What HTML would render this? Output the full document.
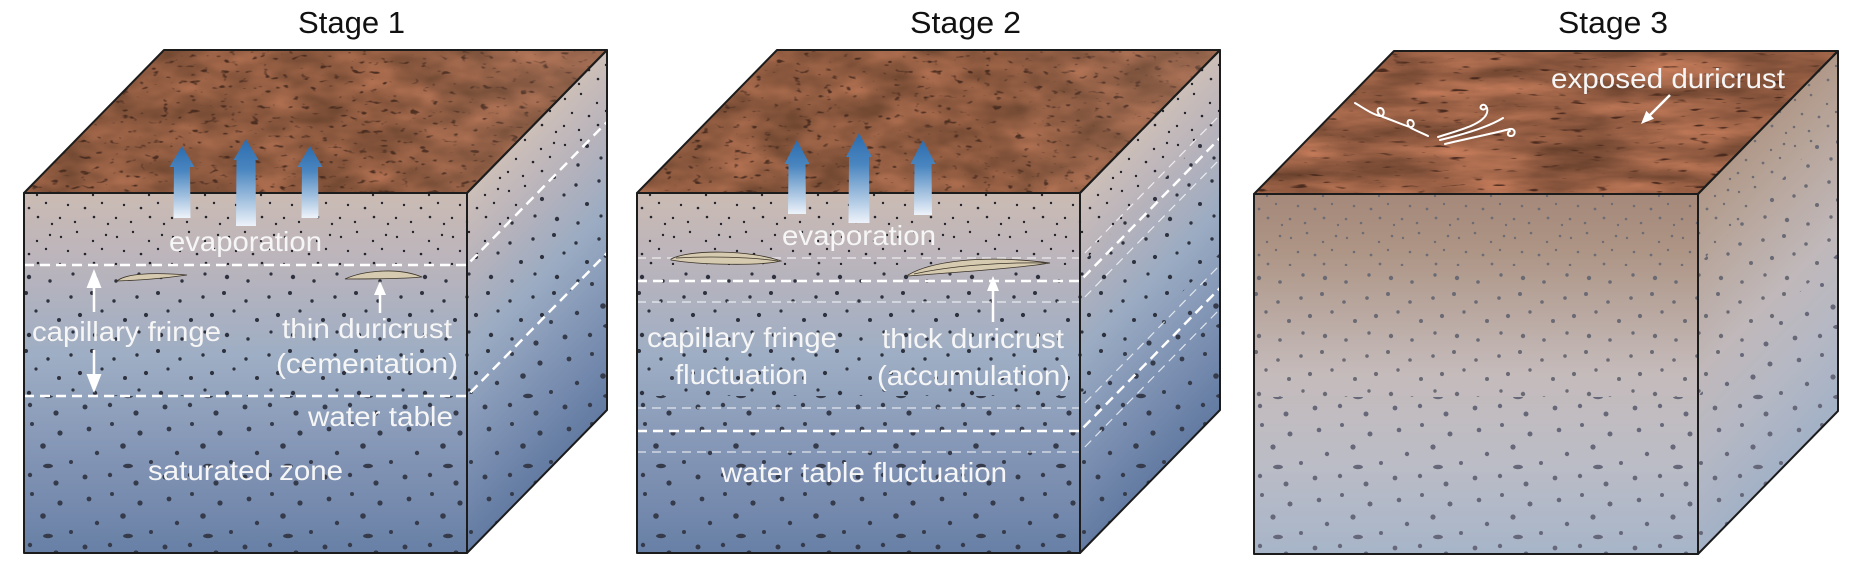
<!DOCTYPE html>
<html><head><meta charset="utf-8"><style>
html,body{margin:0;padding:0;background:#fff;}
svg{display:block;}
text{font-family:"Liberation Sans",Arial,sans-serif;}
</style></head><body>
<svg width="1856" height="586" viewBox="0 0 1856 586" xmlns="http://www.w3.org/2000/svg">
<defs>
 <linearGradient id="gF" gradientUnits="userSpaceOnUse" x1="0" y1="193" x2="0" y2="553">
  <stop offset="0" stop-color="#cbbbb3"/>
  <stop offset="0.2" stop-color="#bab4bc"/>
  <stop offset="0.45" stop-color="#9eaec4"/>
  <stop offset="0.75" stop-color="#8193b4"/>
  <stop offset="1" stop-color="#6880a6"/>
 </linearGradient>
 <linearGradient id="gR" gradientUnits="userSpaceOnUse" x1="467" y1="193" x2="647" y2="369">
  <stop offset="0" stop-color="#cdbfb8"/>
  <stop offset="0.2" stop-color="#b8b3bb"/>
  <stop offset="0.45" stop-color="#9aabc2"/>
  <stop offset="0.75" stop-color="#7c90b2"/>
  <stop offset="1" stop-color="#637ba2"/>
 </linearGradient>
 <linearGradient id="gF3" gradientUnits="userSpaceOnUse" x1="0" y1="193" x2="0" y2="553">
  <stop offset="0" stop-color="#a5897a"/>
  <stop offset="0.15" stop-color="#ad9484"/>
  <stop offset="0.5" stop-color="#c5bbbb"/>
  <stop offset="0.75" stop-color="#bbbcc6"/>
  <stop offset="1" stop-color="#a7b5c9"/>
 </linearGradient>
 <linearGradient id="gR3" gradientUnits="userSpaceOnUse" x1="467" y1="193" x2="647" y2="369">
  <stop offset="0" stop-color="#b09888"/>
  <stop offset="0.2" stop-color="#b8a69c"/>
  <stop offset="0.5" stop-color="#c0b8ba"/>
  <stop offset="0.75" stop-color="#b5b8c4"/>
  <stop offset="1" stop-color="#a3b1c6"/>
 </linearGradient>
 <linearGradient id="ga" x1="0" y1="0" x2="0" y2="1">
  <stop offset="0" stop-color="#2c6cae"/>
  <stop offset="0.35" stop-color="#4a86c0"/>
  <stop offset="1" stop-color="#eef3fa"/>
 </linearGradient>
 <linearGradient id="gTopL" gradientUnits="userSpaceOnUse" x1="380" y1="0" x2="607" y2="0">
  <stop offset="0" stop-color="#c09a8a" stop-opacity="0"/>
  <stop offset="1" stop-color="#c09a8a" stop-opacity="0.2"/>
 </linearGradient>

 <filter id="mars1" x="0" y="0" width="1" height="1" color-interpolation-filters="sRGB">
  <feTurbulence type="fractalNoise" baseFrequency="0.02 0.04" numOctaves="3" seed="7" result="n0"/>
  <feColorMatrix in="n0" type="matrix" values="0.4 0 0 0 0.36  0.25 0 0 0 0.23  0.2 0 0 0 0.15  0 0 0 0 1" result="base"/>
  <feTurbulence type="fractalNoise" baseFrequency="0.1 0.2" numOctaves="2" seed="11" result="n1"/>
  <feColorMatrix in="n1" type="matrix" values="0 0 0 0 0.3  0 0 0 0 0.18  0 0 0 0 0.13  -7 0 0 0 2.45" result="spots"/>
  <feComposite in="spots" in2="base" operator="over" result="m"/>
  <feComposite in="m" in2="SourceAlpha" operator="in"/>
 </filter>
 <filter id="mars2" x="0" y="0" width="1" height="1" color-interpolation-filters="sRGB">
  <feTurbulence type="fractalNoise" baseFrequency="0.02 0.04" numOctaves="3" seed="21" result="n0"/>
  <feColorMatrix in="n0" type="matrix" values="0.4 0 0 0 0.36  0.25 0 0 0 0.23  0.2 0 0 0 0.15  0 0 0 0 1" result="base"/>
  <feTurbulence type="fractalNoise" baseFrequency="0.1 0.2" numOctaves="2" seed="33" result="n1"/>
  <feColorMatrix in="n1" type="matrix" values="0 0 0 0 0.3  0 0 0 0 0.18  0 0 0 0 0.13  -7 0 0 0 2.45" result="spots"/>
  <feComposite in="spots" in2="base" operator="over" result="m"/>
  <feComposite in="m" in2="SourceAlpha" operator="in"/>
 </filter>
 <filter id="mars3" x="0" y="0" width="1" height="1" color-interpolation-filters="sRGB">
  <feTurbulence type="fractalNoise" baseFrequency="0.01 0.05" numOctaves="4" seed="4" result="n0"/>
  <feColorMatrix in="n0" type="matrix" values="0.5 0 0 0 0.34  0.32 0 0 0 0.21  0.25 0 0 0 0.14  0 0 0 0 1" result="base"/>
  <feTurbulence type="fractalNoise" baseFrequency="0.05 0.25" numOctaves="2" seed="9" result="n1"/>
  <feColorMatrix in="n1" type="matrix" values="0 0 0 0 0.3  0 0 0 0 0.17  0 0 0 0 0.12  -7 0 0 0 2.3" result="spots"/>
  <feComposite in="spots" in2="base" operator="over" result="m"/>
  <feComposite in="m" in2="SourceAlpha" operator="in"/>
 </filter>

 <pattern id="p1" width="56" height="46" patternUnits="userSpaceOnUse">
  <g fill="#23232b">
   <circle cx="5" cy="7" r="1.2"/><circle cx="21" cy="2" r="1.2"/><circle cx="37" cy="11" r="1.2"/><circle cx="50" cy="5" r="1.2"/>
   <circle cx="12" cy="21" r="1.2"/><circle cx="29" cy="24" r="1.3"/><circle cx="46" cy="19" r="1.2"/><circle cx="4" cy="34" r="1.2"/>
   <circle cx="19" cy="38" r="1.2"/><circle cx="38" cy="33" r="1.3"/><circle cx="52" cy="40" r="1.2"/>
  </g>
 </pattern>
 <pattern id="p2" width="66" height="58" patternUnits="userSpaceOnUse">
  <g fill="#2e323e">
   <circle cx="5" cy="7" r="1.7"/><circle cx="26" cy="3" r="2"/><circle cx="48" cy="11" r="1.7"/>
   <circle cx="14" cy="25" r="2.1"/><circle cx="36" cy="21" r="1.6"/><circle cx="59" cy="30" r="2"/>
   <circle cx="7" cy="42" r="1.6"/><circle cx="29" cy="45" r="2.2"/><circle cx="50" cy="49" r="1.7"/>
  </g>
 </pattern>
 <pattern id="p3" width="80" height="70" patternUnits="userSpaceOnUse">
  <g fill="#353b4a">
   <circle cx="9" cy="9" r="2.4"/><circle cx="32" cy="4" r="2"/><circle cx="60" cy="13" r="2.6"/>
   <circle cx="17" cy="33" r="2.2"/><circle cx="43" cy="26" r="2.8"/><circle cx="71" cy="42" r="2"/>
   <circle cx="5" cy="57" r="2.5"/><circle cx="30" cy="55" r="2.2"/><circle cx="56" cy="63" r="2.6"/>
   <ellipse cx="48" cy="46" rx="5" ry="2.2"/>
  </g>
 </pattern>
 <pattern id="q1" width="56" height="46" patternUnits="userSpaceOnUse">
  <g fill="#6e6c74">
   <circle cx="5" cy="7" r="1.2"/><circle cx="21" cy="2" r="1.3"/><circle cx="37" cy="11" r="1.2"/><circle cx="50" cy="5" r="1.3"/>
   <circle cx="12" cy="21" r="1.3"/><circle cx="29" cy="24" r="1.4"/><circle cx="46" cy="19" r="1.2"/><circle cx="4" cy="34" r="1.3"/>
   <circle cx="19" cy="38" r="1.3"/><circle cx="38" cy="33" r="1.4"/><circle cx="52" cy="40" r="1.2"/>
  </g>
 </pattern>
 <pattern id="q2" width="66" height="58" patternUnits="userSpaceOnUse">
  <g fill="#6a6a74">
   <circle cx="5" cy="7" r="1.8"/><circle cx="26" cy="3" r="2"/><circle cx="48" cy="11" r="1.8"/>
   <circle cx="14" cy="25" r="2.1"/><circle cx="36" cy="21" r="1.7"/><circle cx="59" cy="30" r="2"/>
   <circle cx="7" cy="42" r="1.7"/><circle cx="29" cy="45" r="2.2"/><circle cx="50" cy="49" r="1.8"/>
  </g>
 </pattern>
 <pattern id="q3" width="80" height="70" patternUnits="userSpaceOnUse">
  <g fill="#66687a">
   <circle cx="9" cy="9" r="2.3"/><circle cx="32" cy="4" r="2"/><circle cx="60" cy="13" r="2.5"/>
   <circle cx="17" cy="33" r="2.2"/><circle cx="43" cy="26" r="2.6"/><circle cx="71" cy="42" r="2"/>
   <circle cx="5" cy="57" r="2.4"/><circle cx="30" cy="55" r="2.2"/><circle cx="56" cy="63" r="2.5"/>
   <ellipse cx="48" cy="46" rx="5" ry="2.2"/>
  </g>
 </pattern>

 <clipPath id="cR1" clipPathUnits="userSpaceOnUse"><polygon points="467,193 607,50 607,122 467,265"/></clipPath>
 <clipPath id="cR2" clipPathUnits="userSpaceOnUse"><polygon points="467,265 607,122 607,253 467,396"/></clipPath>
 <clipPath id="cR3" clipPathUnits="userSpaceOnUse"><polygon points="467,396 607,253 607,410 467,553"/></clipPath>
</defs>

<!-- ============ STAGE 1 ============ -->
<g>
 <polygon points="24,193 467,193 607,50 164,50" fill="#9a6048" filter="url(#mars1)"/>
 <polygon points="24,193 467,193 607,50 164,50" fill="url(#gTopL)"/>
 <rect x="24" y="193" width="443" height="360" fill="url(#gF)"/>
 <polygon points="467,193 607,50 607,410 467,553" fill="url(#gR)"/>
 <rect x="24" y="193" width="443" height="72" fill="url(#p1)"/>
 <rect x="24" y="265" width="443" height="131" fill="url(#p2)"/>
 <rect x="24" y="396" width="443" height="157" fill="url(#p3)"/>
 <rect x="460" y="0" width="150" height="560" fill="url(#p1)" clip-path="url(#cR1)"/>
 <rect x="460" y="0" width="150" height="560" fill="url(#p2)" clip-path="url(#cR2)"/>
 <rect x="460" y="0" width="150" height="560" fill="url(#p3)" clip-path="url(#cR3)"/>
 <g fill="none" stroke="#fff" stroke-width="2.5" stroke-dasharray="10 6">
  <polyline points="24,265 467,265 607,122"/>
  <polyline points="24,396 467,396 607,253"/>
 </g>
 <g fill="none" stroke="#1c1c1c" stroke-width="2" stroke-linejoin="round">
  <polygon points="24,193 467,193 607,50 164,50"/>
  <rect x="24" y="193" width="443" height="360"/>
  <polygon points="467,193 607,50 607,410 467,553"/>
 </g>
</g>

<!-- ============ STAGE 2 ============ -->
<g transform="translate(613,0)">
 <polygon points="24,193 467,193 607,50 164,50" fill="#9a6048" filter="url(#mars2)"/>
 <polygon points="24,193 467,193 607,50 164,50" fill="url(#gTopL)"/>
 <rect x="24" y="193" width="443" height="360" fill="url(#gF)"/>
 <polygon points="467,193 607,50 607,410 467,553" fill="url(#gR)"/>
 <rect x="24" y="193" width="443" height="72" fill="url(#p1)"/>
 <rect x="24" y="265" width="443" height="131" fill="url(#p2)"/>
 <rect x="24" y="396" width="443" height="157" fill="url(#p3)"/>
 <rect x="460" y="0" width="150" height="560" fill="url(#p1)" clip-path="url(#cR1)"/>
 <rect x="460" y="0" width="150" height="560" fill="url(#p2)" clip-path="url(#cR2)"/>
 <rect x="460" y="0" width="150" height="560" fill="url(#p3)" clip-path="url(#cR3)"/>
 <g fill="none" stroke="#fff" stroke-opacity="0.75" stroke-width="1.2" stroke-dasharray="9 6">
  <polyline points="24,258 467,258 607,115"/>
  <polyline points="24,302 467,302 607,159"/>
  <polyline points="24,408 467,408 607,265"/>
  <polyline points="24,452 467,452 607,309"/>
 </g>
 <g fill="none" stroke="#fff" stroke-width="2.5" stroke-dasharray="10 6">
  <polyline points="24,281 467,281 607,138"/>
  <polyline points="24,431 467,431 607,288"/>
 </g>
 <g fill="none" stroke="#1c1c1c" stroke-width="2" stroke-linejoin="round">
  <polygon points="24,193 467,193 607,50 164,50"/>
  <rect x="24" y="193" width="443" height="360"/>
  <polygon points="467,193 607,50 607,410 467,553"/>
 </g>
</g>

<!-- ============ STAGE 3 ============ -->
<g transform="translate(1230,1)">
 <polygon points="24,193 468,193 608,50 164,50" fill="#a06a4f" filter="url(#mars3)"/>
 <rect x="24" y="193" width="444" height="360" fill="url(#gF3)"/>
 <polygon points="468,193 608,50 608,410 468,553" fill="url(#gR3)"/>
 <rect x="24" y="193" width="444" height="72" fill="url(#q1)"/>
 <rect x="24" y="265" width="444" height="131" fill="url(#q2)"/>
 <rect x="24" y="396" width="444" height="157" fill="url(#q3)"/>
 <rect x="460" y="0" width="150" height="560" fill="url(#q1)" clip-path="url(#cR1)"/>
 <rect x="460" y="0" width="150" height="560" fill="url(#q2)" clip-path="url(#cR2)"/>
 <rect x="460" y="0" width="150" height="560" fill="url(#q3)" clip-path="url(#cR3)"/>
 <g fill="none" stroke="#1c1c1c" stroke-width="2" stroke-linejoin="round">
  <polygon points="24,193 468,193 608,50 164,50"/>
  <rect x="24" y="193" width="444" height="360"/>
  <polygon points="468,193 608,50 608,410 468,553"/>
 </g>
</g>

<!-- evaporation arrows -->
<g fill="url(#ga)">
 <polygon points="182,146 194.5,167 190,167 190.5,218 173.5,218 174,167 169.5,167"/>
 <polygon points="246,139 258.5,160 255.5,160 256,226 236,226 236.5,160 233.5,160"/>
 <polygon points="310,146 322.5,167 318,167 318.5,218 301.5,218 302,167 297.5,167"/>
 <polygon points="797,140 809.5,164 805.5,164 806,214 788,214 788.5,164 784.5,164"/>
 <polygon points="859,133 872,157 869,157 869.5,223 848.5,223 849,157 846,157"/>
 <polygon points="923,140 935.5,164 931.5,164 932,215 914,215 914.5,164 910.5,164"/>
</g>

<!-- duricrust lenses -->
<g fill="#d6cbb0" stroke="#3a3328" stroke-width="0.8">
 <path d="M117,281 C125,274 150,272 187,275 C160,279 140,280 117,281 Z"/>
 <path d="M345,279 C360,272 395,266 422,277 C400,279 370,279 345,279 Z"/>
 <path d="M671,259 C690,249 750,250 781,261 C760,266 700,265 671,260 Z"/>
 <path d="M908,275 C930,262 980,254 1050,263 C1020,268 960,272 908,276 Z"/>
</g>
<g fill="none" stroke="#3a3328" stroke-width="0.7">
 <path d="M676,258 C710,256 750,257 778,261"/>
 <path d="M914,274 C950,266 1000,262 1046,263"/>
</g>

<!-- white pointer arrows -->
<g stroke="#fff" stroke-width="2.5" fill="none">
 <line x1="94" y1="284" x2="94" y2="312"/>
 <line x1="94" y1="350" x2="94" y2="378"/>
 <line x1="380" y1="293" x2="380" y2="313"/>
 <line x1="993" y1="288" x2="993" y2="322"/>
 <line x1="1670" y1="95" x2="1649" y2="116"/>
</g>
<g fill="#fff">
 <polygon points="94,269 101.5,288 86.5,288"/>
 <polygon points="94,393 101.5,374 86.5,374"/>
 <polygon points="380,281 386,295 374,295"/>
 <polygon points="993,276 999,291 987,291"/>
 <polygon points="1641,124 1654,118.7 1646.3,110.9"/>
</g>

<!-- wind symbol -->
<g fill="none" stroke="#fff" stroke-width="2" stroke-linecap="round">
 <path d="M1355,103 C1365,109 1372,114 1380,116 C1385,117 1385,108 1380,108 C1376,108 1377,115 1383,117 C1392,120 1400,124 1410,127 C1415,128 1415,120 1410,120 C1406,120 1407,127 1413,129 C1419,132 1424,134 1428,136"/>
 <path d="M1438,137 C1460,130 1480,125 1486,115 C1490,108 1484,102 1481,106 C1479,109 1484,111 1486,108"/>
 <path d="M1440,140 C1465,134 1490,126 1503,118"/>
 <path d="M1445,144 C1470,138 1495,133 1510,129 C1516,128 1516,136 1511,136 C1507,136 1507,132 1510,131"/>
</g>

<!-- titles -->
<g fill="#111" font-size="31">
 <text x="298" y="33" textLength="107" lengthAdjust="spacingAndGlyphs">Stage 1</text>
 <text x="910" y="33" textLength="111" lengthAdjust="spacingAndGlyphs">Stage 2</text>
 <text x="1558" y="33" textLength="110" lengthAdjust="spacingAndGlyphs">Stage 3</text>
</g>

<!-- labels -->
<g fill="#f6f6f6" font-size="28">
 <text x="169" y="251" textLength="153" lengthAdjust="spacingAndGlyphs">evaporation</text>
 <text x="32" y="341" textLength="189" lengthAdjust="spacingAndGlyphs">capillary fringe</text>
 <text x="282" y="338" textLength="170" lengthAdjust="spacingAndGlyphs">thin duricrust</text>
 <text x="276" y="373" textLength="182" lengthAdjust="spacingAndGlyphs">(cementation)</text>
 <text x="308" y="426" textLength="145" lengthAdjust="spacingAndGlyphs">water table</text>
 <text x="148" y="480" textLength="195" lengthAdjust="spacingAndGlyphs">saturated zone</text>

 <text x="782" y="245" textLength="154" lengthAdjust="spacingAndGlyphs">evaporation</text>
 <text x="647" y="347" textLength="190" lengthAdjust="spacingAndGlyphs">capillary fringe</text>
 <text x="675" y="384" textLength="133" lengthAdjust="spacingAndGlyphs">fluctuation</text>
 <text x="882" y="348" textLength="182" lengthAdjust="spacingAndGlyphs">thick duricrust</text>
 <text x="877" y="385" textLength="193" lengthAdjust="spacingAndGlyphs">(accumulation)</text>
 <text x="721" y="482" textLength="286" lengthAdjust="spacingAndGlyphs">water table fluctuation</text>

 <text x="1551" y="88" textLength="234" lengthAdjust="spacingAndGlyphs">exposed duricrust</text>
</g>
</svg>
</body></html>
